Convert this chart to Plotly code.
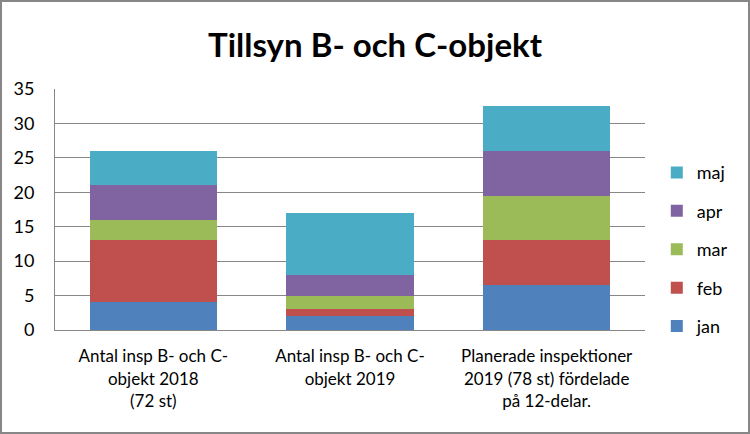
import plotly.graph_objects as go

categories = ["Antal insp B- och C-<br>objekt 2018<br>(72 st)",
              "Antal insp B- och C-<br>objekt 2019",
              "Planerade inspektioner<br>2019 (78 st) fördelade<br>på 12-delar."]
series_names = ["jan", "feb", "mar", "apr", "maj"]
jan = [4, 2, 6.5]
feb = [9, 1, 6.5]
mar = [3, 2, 6.5]
apr = [5, 3, 6.5]
maj = [5, 9, 6.5]
colors = ["#4F81BD", "#C0504D", "#9BBB59", "#8064A2", "#4BACC6"]
yticks = [0, 5, 10, 15, 20, 25, 30, 35]

font_family = "Lato, 'Open Sans', sans-serif"
fig = go.Figure()
n = len(series_names)
for i, (name, vals, c) in enumerate(zip(series_names, [jan, feb, mar, apr, maj], colors)):
    fig.add_trace(go.Bar(name=name, x=categories, y=vals, marker_color=c,
                         marker_line_width=0, legendgroup=name, legendrank=n - i))

fig.update_layout(
    barmode="stack",
    bargap=0.354,
    width=750, height=434,
    margin=dict(l=55, r=105, t=89, b=104),
    paper_bgcolor="white", plot_bgcolor="white",
    title=dict(text="<b>Tillsyn B- och C-objekt</b>", x=0.5, xanchor="center",
               y=0.895, yanchor="middle",
               font=dict(family=font_family, size=33, color="black")),
    font=dict(family=font_family, size=17, color="black"),
    legend=dict(x=1.02, xanchor="left", xref="paper", y=0.335, yanchor="middle",
                traceorder="grouped", tracegroupgap=12,
                font=dict(size=18), itemwidth=30),
    xaxis=dict(showline=True, linecolor="#878787", linewidth=1, ticks="",
               tickfont=dict(size=17), ticklabelstandoff=11),
    yaxis=dict(range=[0, 35], tickvals=yticks, showgrid=True, gridcolor="#878787",
               gridwidth=1, showline=True, linecolor="#878787", ticks="",
               ticklabelstandoff=16, tickfont=dict(size=18), zeroline=False),
    shapes=[dict(type="rect", xref="paper", yref="paper", x0=-54/590, x1=1+104/590,
                 y0=-103/241, y1=1+88/241, line=dict(color="#878787", width=2))],
)
fig.write_html("out.html", config={"displayModeBar": False},
               post_script="document.body.style.margin='0';")
